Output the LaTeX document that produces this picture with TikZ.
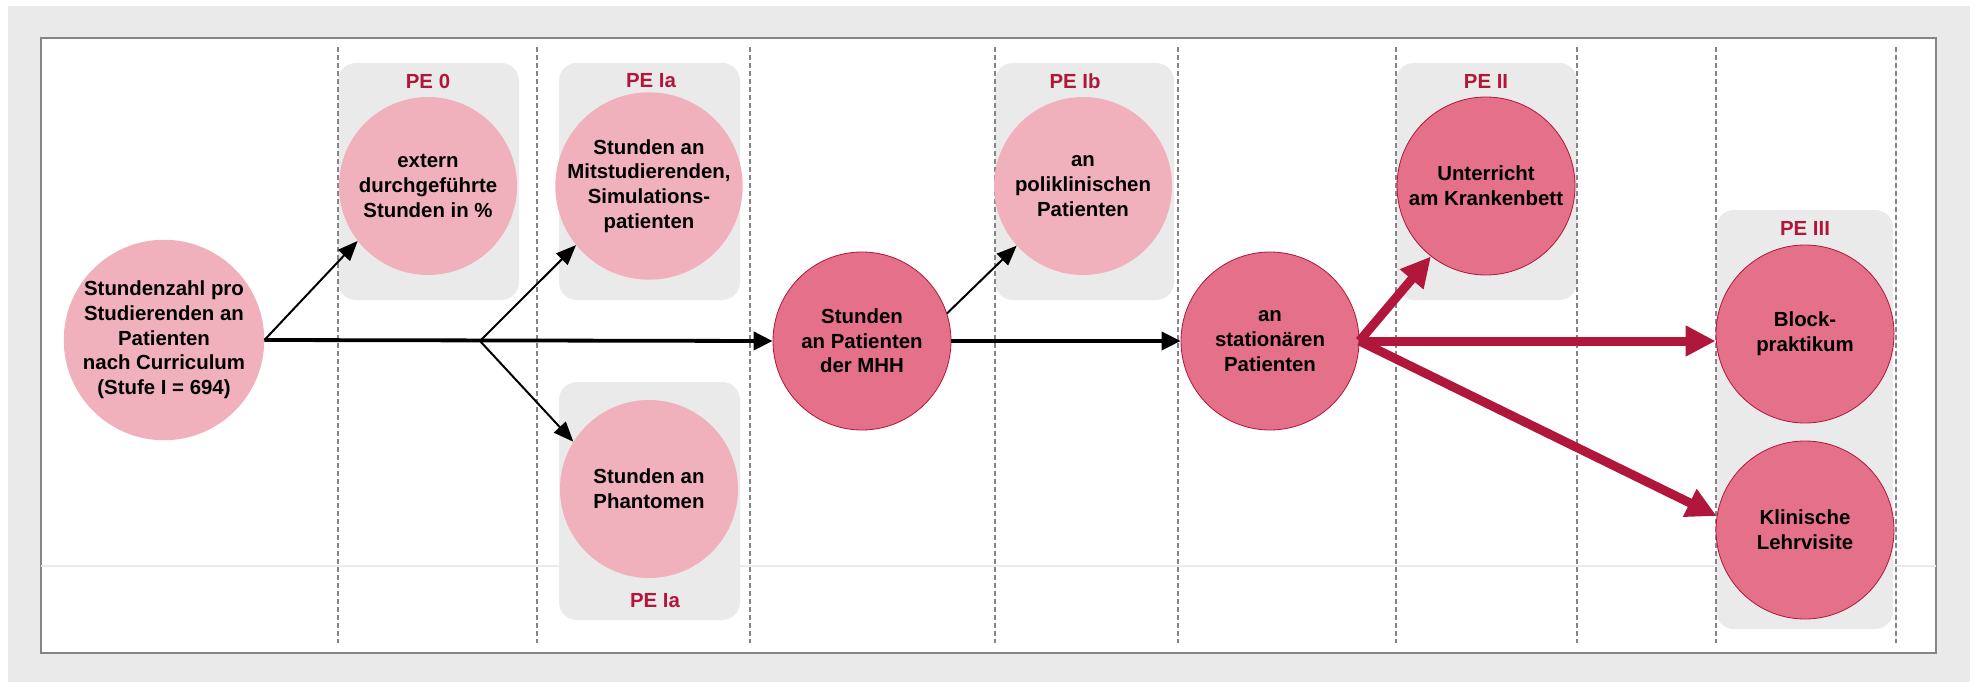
\documentclass[tikz,border=0pt]{standalone}
\usepackage{fontspec}
\setmainfont{Liberation Sans}
\usetikzlibrary{arrows.meta}
\definecolor{peRed}{HTML}{B0173A}
\definecolor{lightRose}{HTML}{F0B1BD}
\definecolor{darkRose}{HTML}{E57089}
\definecolor{boxGray}{HTML}{EAEAEA}
\definecolor{lineGray}{HTML}{858585}
\begin{document}
\begin{tikzpicture}[x=1pt,y=-1pt,
		stage/.style={circle, minimum size=178pt, inner sep=0pt, align=center, font=\bfseries\fontsize{20.4}{24.7}\selectfont},
		light/.style={stage, fill=lightRose},
		dark/.style={stage, fill=darkRose, draw=peRed, line width=0.8pt},
		pebox/.style={fill=boxGray, rounded corners=18pt},
		pelabel/.style={text=peRed, inner sep=0pt, font=\bfseries\fontsize{20.4}{24}\selectfont},
		thinarrow/.style={line width=2pt, -{Triangle[length=20pt,width=16pt]}},
		mainarrow/.style={line width=3.8pt, -{Triangle[length=19pt,width=18pt]}},
		redarrow/.style={peRed, line width=9pt, -{Triangle[length=30pt,width=29pt]}}]
	\useasboundingbox (0,0) rectangle (1975,682);
	\fill[boxGray] (8,6) rectangle (1970,682);
	\draw[lineGray, line width=2.5pt, fill=white] (41,38) rectangle (1936,653);
	\draw[boxGray, line width=1.5pt] (41,566) -- (1936,566);
	% phase boxes
	\fill[pebox] (338,63) rectangle (519,300);
	\fill[pebox] (559,63) rectangle (740,300);
	\fill[pebox] (559,382) rectangle (740,620);
	\fill[pebox] (995,63) rectangle (1174,300);
	\fill[pebox] (1396,63) rectangle (1577,300);
	\fill[pebox] (1716,210) rectangle (1893,629);
	\foreach \x in {338,537,750,995,1178,1396,1577,1716,1896}
		\draw[lineGray, line width=1.3pt, dash pattern=on 5pt off 3pt] (\x,47) -- (\x,643);
	\node[pelabel] (pe0) at (428,81) {PE 0};
	\node[pelabel] (peIa) at (651,81) {PE Ia};
	\node[pelabel] (peIaLow) at (655,601) {PE Ia};
	\node[pelabel] (peIb) at (1075,81) {PE Ib};
	\node[pelabel] (peII) at (1486,81) {PE II};
	\node[pelabel] (peIII) at (1805,228) {PE III};
	% stages
	\node[light] (start) at (164,340) {Stundenzahl pro\\Studierenden an\\Patienten\\nach Curriculum\\(Stufe I = 694)};
	\node[light] (ext) at (428,186) {extern\\durchgeführte\\Stunden in \%};
	\node[light] (mit) at (649,186) {Stunden an\\Mitstudierenden,\\Simulations-\\patienten};
	\node[light] (phan) at (649,489) {Stunden an\\Phantomen};
	\node[dark] (mhh) at (862,341) {Stunden\\an Patienten\\der MHH};
	\node[light] (poli) at (1083,186) {an\\poliklinischen\\Patienten};
	\node[dark] (stat) at (1270,341) {an\\stationären\\Patienten};
	\node[dark] (bed) at (1486,186) {Unterricht\\am Krankenbett};
	\node[dark] (block) at (1805,334) {Block-\\praktikum};
	\node[dark] (visit) at (1805,530) {Klinische\\Lehrvisite};
	% connections
	\coordinate (fork) at (480,341);
	\draw[mainarrow] (start.east) -- (mhh.west);
	\draw[thinarrow] (start.east) -- (ext.218);
	\draw[thinarrow] (fork) -- (mit.219);
	\draw[thinarrow] (fork) -- (phan.148);
	\draw[mainarrow] (mhh.east) -- (stat.west);
	\draw[thinarrow] (mhh.18) -- (poli.222);
	\draw[redarrow] (stat.east) -- (bed.232);
	\draw[redarrow] (stat.east) -- (stat.east -| block.west);
	\draw[redarrow] (stat.east) -- (visit.171);
\end{tikzpicture}
\end{document}
